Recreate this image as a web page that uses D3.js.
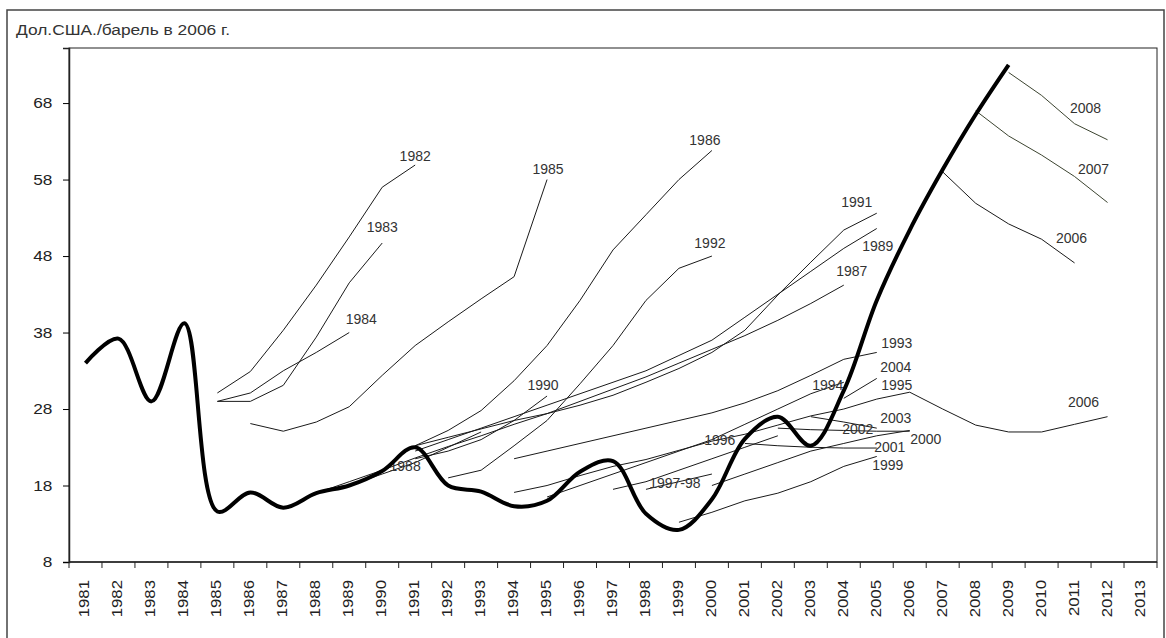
<!DOCTYPE html>
<html>
<head>
<meta charset="utf-8">
<script src="https://cdn.jsdelivr.net/npm/d3@7"></script>
<style>
  body { margin: 0; background: #fff; }
  svg { display: block; }
  text { font-family: "Liberation Sans", Arial, sans-serif; }
</style>
</head>
<body>
<svg id="chart" width="1166" height="638"></svg>
<script>
// years on the category axis
var years = d3.range(1981, 2014);
var yTicks = [8, 18, 28, 38, 48, 58, 68];
var title = "Дол.США./барель в 2006 г.";

// actual price, 1981-2009
var actualStart = 1981;
var actual = [34.0, 37.2, 29.0, 39.2, 14.6, 17.1, 15.1, 17.0, 18.0, 19.9, 23.0, 18.0, 17.2, 15.3,
              16.0, 19.8, 21.2, 14.3, 12.2, 16.2, 24.1, 27.0, 23.2, 30.4, 42.2, 51.4, 59.3, 66.5, 73.0];

// forecasts: label, first year, values
var fcLabels = ["1982", "1983", "1984", "1985", "1986", "1987", "1988", "1989", "1990", "1991",
                "1992", "1993", "1994", "1995", "1996", "1997-98", "1999", "2000", "2001", "2002",
                "2003", "2004", "2006", "2006", "2007", "2008"];
var fcStart = [1985, 1985, 1985, 1986, 1991, 1988, 1989, 1991, 1991, 1991,
               1992, 1994, 1995, 1994, 1997, 1998, 1999, 2000, 2001, 2002,
               2003, 2004, 2006, 2007, 2008, 2009];
var fcValues = [
  [30.1, 32.9, 38.3, 44.2, 50.5, 57.0, 59.9],
  [29.0, 29.0, 31.1, 37.4, 44.5, 49.7],
  [29.0, 30.1, 33.0, 35.4, 38.0],
  [26.1, 25.1, 26.3, 28.3, 32.4, 36.3, 39.4, 42.4, 45.3, 58.0],
  [23.2, 25.2, 27.8, 31.7, 36.3, 42.2, 48.8, 53.4, 58.0, 61.8],
  [17.0, 18.5, 20.0, 21.6, 23.1, 24.5, 26.0, 27.4, 29.0, 30.6, 32.2, 34.0, 35.8, 37.6, 39.6, 41.8, 44.2],
  [18.0, 19.5, 21.0, 23.0, 25.0],
  [22.5, 24.0, 25.5, 27.0, 28.5, 30.0, 31.5, 33.0, 35.0, 37.0, 40.0, 43.0, 46.0, 49.0, 51.6],
  [21.5, 22.5, 24.0, 26.5, 29.7],
  [23.2, 24.3, 25.4, 26.5, 27.4, 28.5, 29.8, 31.5, 33.3, 35.4, 38.3, 42.9, 47.2, 51.4, 53.6],
  [19.0, 20.0, 23.2, 26.5, 31.3, 36.3, 42.2, 46.4, 48.0],
  [21.5, 22.5, 23.5, 24.5, 25.5, 26.5, 27.5, 28.8, 30.4, 32.4, 34.5, 35.4],
  [16.5, 18.0, 19.5, 21.0, 22.5, 24.0, 26.0, 28.0, 30.0, 31.5],
  [17.1, 18.0, 19.3, 20.5, 21.4, 22.6, 23.8, 24.7, 25.9, 27.1, 28.0, 29.3, 30.2],
  [17.5, 18.5, 20.0, 21.5, 23.0, 24.5],
  [17.5, 18.5, 19.5],
  [13.2, 14.5, 16.0, 17.0, 18.5, 20.5, 21.8],
  [18.0, 19.5, 21.0, 22.5, 23.5, 24.5, 25.2],
  [23.5, 23.2, 23.0, 22.9, 22.9],
  [25.5, 25.3, 25.2, 25.1, 25.1],
  [27.0, 26.3, 25.5],
  [29.4, 32.0],
  [30.2, 28.0, 25.9, 25.0, 25.0, 26.0, 27.0],
  [59.0, 54.9, 52.2, 50.2, 47.1],
  [67.0, 63.7, 61.2, 58.4, 55.0],
  [72.0, 69.0, 65.3, 63.2]
];

var svg = d3.select("#chart");
var M = {left: 69, top: 48, right: 1157, bottom: 562};

var x = d3.scaleBand().domain(years).range([M.left, M.right]);
var y = d3.scaleLinear().domain([8, 75.2]).range([M.bottom, M.top]);
var cx = function(yr) { return x(yr) + x.bandwidth() / 2; };

// outer frame
svg.append("rect")
  .attr("x", 7).attr("y", 10).attr("width", 1157).attr("height", 640)
  .attr("fill", "none").attr("stroke", "#444").attr("stroke-width", 1.5);

svg.append("text")
  .attr("x", 16).attr("y", 35)
  .attr("font-size", 14).attr("fill", "#333")
  .attr("textLength", 214).attr("lengthAdjust", "spacingAndGlyphs")
  .text(title);

// plot border
svg.append("rect")
  .attr("x", M.left).attr("y", M.top)
  .attr("width", M.right - M.left).attr("height", M.bottom - M.top)
  .attr("fill", "none").attr("stroke", "#222").attr("stroke-width", 1);

// y axis
var yAxis = d3.axisLeft(y).tickValues(yTicks).tickSize(6).tickPadding(5);
var gy = svg.append("g").attr("transform", "translate(" + M.left + ",0)").call(yAxis);
gy.select(".domain").attr("stroke", "#222").attr("stroke-width", 1.5);
gy.selectAll("text").attr("font-size", 15).attr("fill", "#222")
  .attr("font-family", "Liberation Sans, Arial, sans-serif")
  .attr("transform", "translate(-4,0) scale(1.15,1)");

// x axis: ticks between categories, labels rotated
var gx = svg.append("g").attr("transform", "translate(0," + M.bottom + ")");
gx.append("line").attr("x1", M.left).attr("x2", M.right).attr("stroke", "#222").attr("stroke-width", 1.5);
gx.selectAll(".tk").data(years.concat([2014])).enter().append("line")
  .attr("x1", function(d) { return d === 2014 ? M.right : x(d); })
  .attr("x2", function(d) { return d === 2014 ? M.right : x(d); })
  .attr("y1", 0).attr("y2", 6).attr("stroke", "#222");
gx.selectAll(".lb").data(years).enter().append("text")
  .attr("transform", function(d) { return "translate(" + (cx(d) + 4) + ",18) rotate(-90) scale(1.2,1)"; })
  .attr("text-anchor", "end")
  .attr("font-size", 14).attr("fill", "#222")
  .text(function(d) { return d; });

var line = d3.line()
  .x(function(d) { return cx(d[0]); })
  .y(function(d) { return y(d[1]); });

// forecasts
var fc = fcValues.map(function(vals, i) {
  return vals.map(function(v, j) { return [fcStart[i] + j, v]; });
});
svg.append("g").selectAll("path").data(fc).enter().append("path")
  .attr("d", line)
  .attr("fill", "none")
  .attr("stroke", function(d, i) { return fcStart[i] >= 2008 ? "#3c4430" : "#1a1a1a"; })
  .attr("stroke-width", 1);

// label centre relative to the last point of each forecast
var labelShift = [
  [0, -9], [0, -16], [12, -13], [1, -10], [-7, -10],
  [8, -14], [-76, 34], [1, 18], [-4, -11], [-20, -11],
  [-2, -13], [20, -9], [-16, 3], [-13, -7], [-58, 4],
  [-37, 9], [11, 9], [16, 9], [13, -1], [-52, -2],
  [19, -10], [19, -11], [-24, -15], [-3, -25], [-14, -33], [-22, -32]
];
svg.append("g").selectAll("text").data(fc).enter().append("text")
  .attr("x", function(d, i) { return cx(d[d.length - 1][0]) + labelShift[i][0]; })
  .attr("y", function(d, i) { return y(d[d.length - 1][1]) + labelShift[i][1]; })
  .attr("dy", "0.35em")
  .attr("text-anchor", "middle")
  .attr("font-size", 14).attr("fill", "#333")
  .text(function(d, i) { return fcLabels[i]; });

// actual price, thick smoothed line
var act = actual.map(function(v, j) { return [actualStart + j, v]; });
svg.append("path")
  .attr("d", line.curve(d3.curveCatmullRom.alpha(0.5))(act))
  .attr("fill", "none").attr("stroke", "#000").attr("stroke-width", 4)
  .attr("stroke-linejoin", "round");
</script>
</body>
</html>
